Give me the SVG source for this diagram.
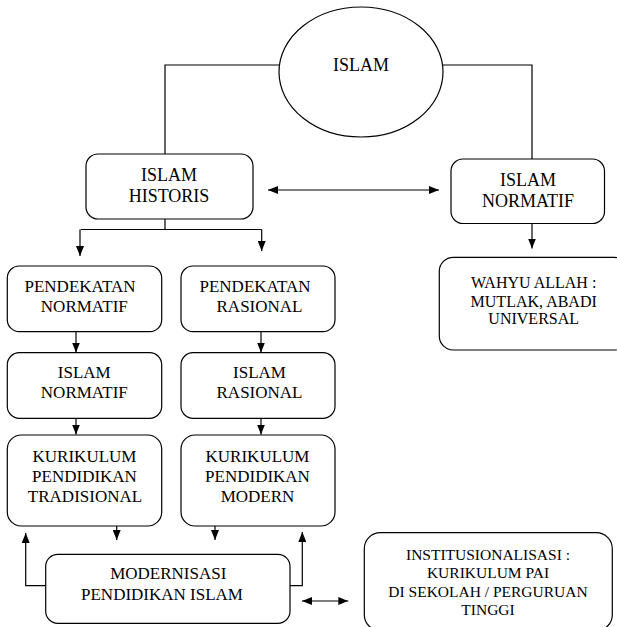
<svg xmlns="http://www.w3.org/2000/svg" width="617" height="627" viewBox="0 0 617 627">
<style>
.n{fill:#fff;stroke:#000;stroke-width:1.2}
.c{fill:none;stroke:#000;stroke-width:1.2}
text{font-family:"Liberation Serif","Times New Roman",serif;fill:#000;text-anchor:middle}
.t18{font-size:18px}
.t17{font-size:17px}
.t16{font-size:16px}
.t15{font-size:15.5px}
</style>
<defs>
<marker id="ah" viewBox="0 0 10 8" refX="10" refY="4" markerWidth="10" markerHeight="8" markerUnits="userSpaceOnUse" orient="auto-start-reverse">
<path d="M0,0 L10,4 L0,8 z" fill="#000"/>
</marker>
</defs>
<rect width="617" height="627" fill="#fff"/>
<g id="connectors">
<path class="c" d="M279,65 H165 V154"/>
<path class="c" d="M443,65 H532 V159"/>
<path class="c" d="M268,190 H439" marker-start="url(#ah)" marker-end="url(#ah)"/>
<path class="c" d="M165,219 V229.5 M80.7,229.5 H261.7"/>
<path class="c" d="M80,229.5 V256" marker-end="url(#ah)"/>
<path class="c" d="M261.7,229.5 V251" marker-end="url(#ah)"/>
<path class="c" d="M532,223 V248.5" marker-end="url(#ah)"/>
<path class="c" d="M76,332 V352.5" marker-end="url(#ah)"/>
<path class="c" d="M261,332 V352.5" marker-end="url(#ah)"/>
<path class="c" d="M76,418.5 V434.5" marker-end="url(#ah)"/>
<path class="c" d="M261,418.5 V434.5" marker-end="url(#ah)"/>
<path class="c" d="M116.7,526 V540" marker-end="url(#ah)"/>
<path class="c" d="M215,526 V540" marker-end="url(#ah)"/>
<path class="c" d="M45.7,585.7 H25.7 V533" marker-end="url(#ah)"/>
<path class="c" d="M290,585.7 H302.3 V532" marker-end="url(#ah)"/>
<path class="c" d="M302,601 H348.3" marker-start="url(#ah)" marker-end="url(#ah)"/>
</g>
<g id="islam">
<ellipse class="n" cx="361" cy="72" rx="82" ry="65"/>
<text class="t18" x="361" y="70.5">ISLAM</text>
</g>
<g id="islam-historis">
<rect class="n" x="86" y="154" width="167" height="65" rx="12"/>
<text class="t18" x="169" y="180.5">ISLAM</text>
<text class="t18" x="169" y="202">HISTORIS</text>
</g>
<g id="islam-normatif-top">
<rect class="n" x="451" y="159" width="153.5" height="64.5" rx="12"/>
<text class="t18" x="528" y="185.7">ISLAM</text>
<text class="t18" x="528" y="206.7">NORMATIF</text>
</g>
<g id="wahyu">
<rect class="n" x="439.3" y="257.3" width="189" height="92.7" rx="14"/>
<text class="t16" x="533.7" y="288.3">WAHYU ALLAH :</text>
<text class="t16" x="533.7" y="306.7">MUTLAK, ABADI</text>
<text class="t16" x="533.7" y="324.3">UNIVERSAL</text>
</g>
<g id="pendekatan-normatif">
<rect class="n" x="7.3" y="266" width="154.4" height="65.7" rx="12"/>
<text class="t17" x="80" y="291.7">PENDEKATAN</text>
<text class="t17" x="84.3" y="311.7">NORMATIF</text>
</g>
<g id="pendekatan-rasional">
<rect class="n" x="181" y="266" width="154" height="65.7" rx="12"/>
<text class="t17" x="255" y="291.7">PENDEKATAN</text>
<text class="t17" x="259.5" y="311.7">RASIONAL</text>
</g>
<g id="islam-normatif">
<rect class="n" x="7.3" y="352.7" width="154.4" height="65.6" rx="12"/>
<text class="t17" x="84.3" y="378.3">ISLAM</text>
<text class="t17" x="84.3" y="397.7">NORMATIF</text>
</g>
<g id="islam-rasional">
<rect class="n" x="181" y="352.7" width="154" height="65.6" rx="12"/>
<text class="t17" x="259.5" y="378.3">ISLAM</text>
<text class="t17" x="259.5" y="397.7">RASIONAL</text>
</g>
<g id="kurikulum-tradisional">
<rect class="n" x="7.3" y="435" width="154.4" height="91" rx="14"/>
<text class="t17" x="84.5" y="461.7">KURIKULUM</text>
<text class="t17" x="84.5" y="481.7">PENDIDIKAN</text>
<text class="t17" x="85" y="501.7">TRADISIONAL</text>
</g>
<g id="kurikulum-modern">
<rect class="n" x="181" y="435" width="154" height="91" rx="14"/>
<text class="t17" x="257.5" y="461.7">KURIKULUM</text>
<text class="t17" x="257.5" y="481.7">PENDIDIKAN</text>
<text class="t17" x="257.5" y="501.7">MODERN</text>
</g>
<g id="modernisasi">
<rect class="n" x="45.7" y="554.3" width="244.3" height="69" rx="12"/>
<text class="t17" x="168.3" y="579.3">MODERNISASI</text>
<text class="t17" x="162" y="600">PENDIDIKAN ISLAM</text>
</g>
<g id="institusionalisasi">
<rect class="n" x="364.3" y="532.7" width="248" height="98" rx="16"/>
<text class="t15" x="488" y="560">INSTITUSIONALISASI :</text>
<text class="t15" x="488" y="578.3">KURIKULUM PAI</text>
<text class="t15" x="488" y="596.7">DI SEKOLAH / PERGURUAN</text>
<text class="t15" x="488" y="615">TINGGI</text>
</g>
</svg>
